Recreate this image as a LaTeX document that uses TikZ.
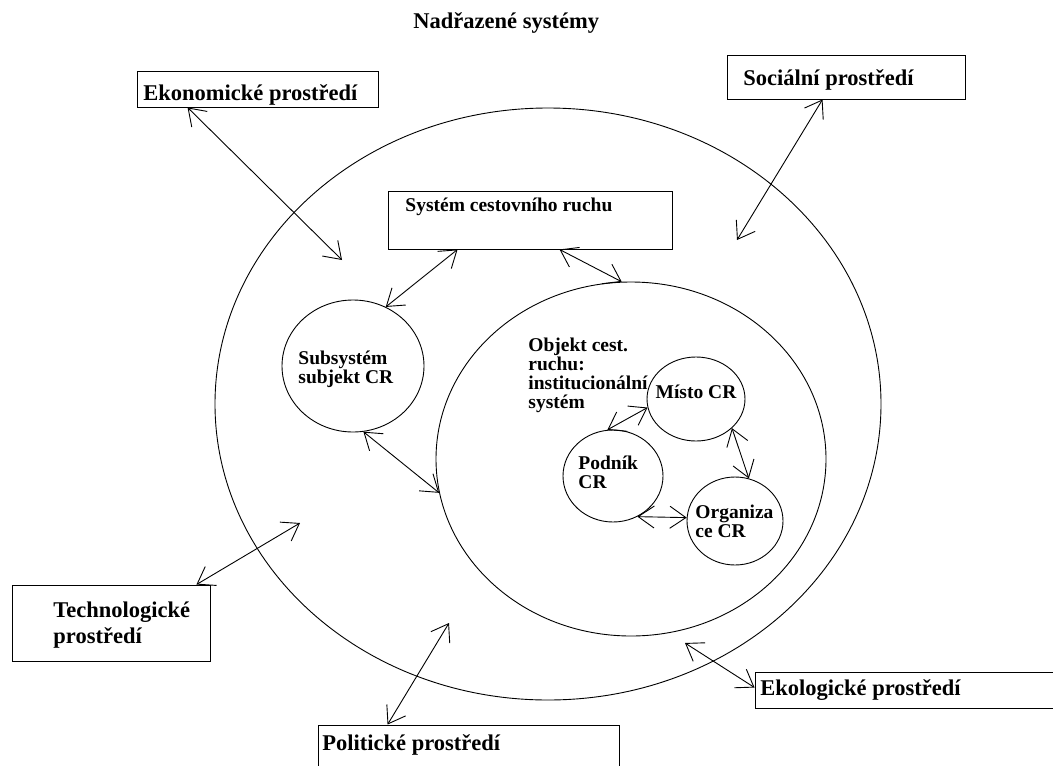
\documentclass[tikz,border=0pt]{standalone}
\usepackage{fontspec}
\setmainfont{Liberation Serif}
\usetikzlibrary{shapes.geometric,arrows.meta,calc}
\begin{document}
\begin{tikzpicture}[x=1pt,y=-1pt,
  line width=0.9pt,
  box/.style={draw, rectangle, inner sep=0pt},
  circ/.style={draw, ellipse, inner sep=0pt},
  bigtext/.style={font=\fontsize{22.5}{26}\selectfont\bfseries, inner sep=0pt, anchor=west, align=left},
  smalltext/.style={font=\fontsize{19.5}{19}\selectfont\bfseries, inner sep=0pt, anchor=west, align=left},
  link/.style={{Straight Barb[length=16pt,width=22pt]}-{Straight Barb[length=16pt,width=22pt]}},
]
\fill[white] (0,0) rectangle (1053,766);
\useasboundingbox (0,0) rectangle (1053,766);

% circles
\node[circ, minimum width=666pt, minimum height=592pt] (big) at (548,404) {};
\node[circ, minimum width=390pt, minimum height=354pt] (inner) at (631,459) {};
\node[circ, minimum width=142pt, minimum height=132pt] (sub) at (353,366) {};
\node[circ, minimum width=98pt, minimum height=84pt] (misto) at (696,399) {};
\node[circ, minimum width=100pt, minimum height=92pt] (podnik) at (613,476) {};
\node[circ, minimum width=96pt, minimum height=88pt] (org) at (735,521) {};

% boxes
\node[box, minimum width=241pt, minimum height=36pt] (eko) at (257.5,89) {};
\node[box, minimum width=238pt, minimum height=44pt] (soc) at (846,77) {};
\node[box, minimum width=284pt, minimum height=58pt] (sys) at (530,220) {};
\node[box, minimum width=198pt, minimum height=76pt] (tech) at (111,623) {};
\node[box, minimum width=301pt, minimum height=70pt] (pol) at (468.5,760) {};
\node[box, minimum width=310pt, minimum height=36pt] (ekol) at (910,690) {};

% texts
\node[bigtext] (tit) at (413,23) {Nadřazené systémy};
\node[bigtext] (ekot) at (143,95) {Ekonomické prostředí};
\node[bigtext] (soct) at (743,80) {Sociální prostředí};
\node[smalltext] (syst) at (405,207) {Systém cestovního ruchu};
\node[bigtext] (techt) at (53,625) {Technologické\\prostředí};
\node[bigtext] (polt) at (322,745) {Politické prostředí};
\node[bigtext] (ekolt) at (760,690) {Ekologické prostředí};
\node[smalltext] (subt) at (298,369.5) {Subsystém\\subjekt CR};
\node[smalltext] (objt) at (528,375.5) {Objekt cest.\\ruchu:\\institucionální\\systém};
\node[smalltext, anchor=center] (mistot) at (696,392) {Místo CR};
\node[smalltext] (podt) at (578,472) {Podník\\CR};
\node[smalltext] (orgt) at (695,521) {Organiza\\ce CR};

% free ends
\coordinate (e1) at (342,260);
\coordinate (s1) at (737,240);
\coordinate (t1) at (300,523);
\coordinate (p1) at (449,623);
\coordinate (k1) at (685,643);

% connectors
\draw[link] ($(eko.south west)+(51,0)$) -- (e1);
\draw[link] ($(soc.south west)+(96,0)$) -- (s1);
\draw[link] ($(sys.south west)+(70,0)$) -- (sub.61);
\draw[link] ($(sys.south west)+(172,0)$) -- (inner.93);
\draw[link] (sub.-81) -- (inner.190);
\draw[link] (misto.190) -- (podnik.97);
\draw[link] (misto.-39) -- (org.72);
\draw[link] (podnik.-59) -- (org.176);
\draw[link] ($(tech.north east)+(-14,0)$) -- (t1);
\draw[link] ($(pol.north west)+(70,0)$) -- (p1);
\draw[link] ($(ekol.north west)+(0,16)$) -- (k1);
\end{tikzpicture}
\end{document}
